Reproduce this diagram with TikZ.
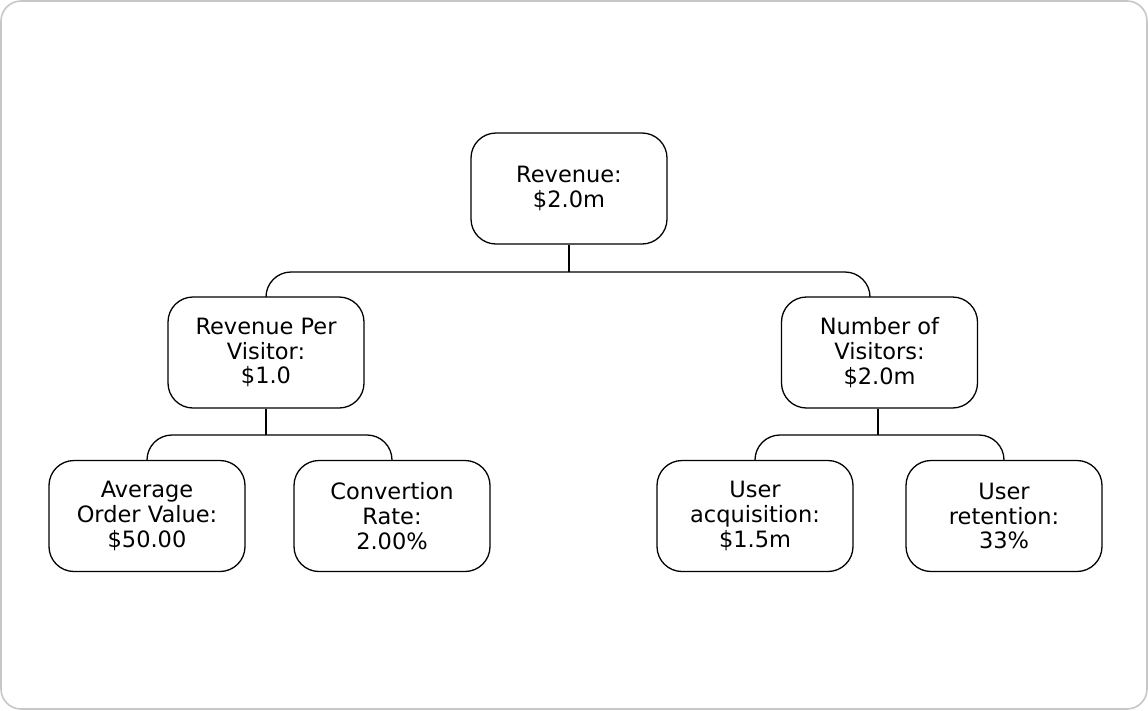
\documentclass[tikz,border=0pt]{standalone}
\usepackage{fontspec}
\setmainfont{DejaVu Sans}
\usetikzlibrary{positioning}

\begin{document}
\begin{tikzpicture}[x=1pt,y=-1pt]
          %% revenue tree

          \tikzstyle{metric}=[draw,line width=1.3pt,rounded corners=25pt,minimum width=196pt,
                  minimum height=111pt,align=center,font=\fontsize{22.5}{24.8}\selectfont,inner sep=0pt]
          \tikzstyle{link}=[line width=1.3pt,rounded corners=25pt]

          \useasboundingbox (0,0) rectangle (1148,710);
          \draw[line width=1.6pt,draw=black!22,rounded corners=20pt] (1,1) rectangle (1147,709);

          % top
          \node[metric] (REV) at (569,188.5) {Revenue:\\\$2.0m};

          % second level
          \node[metric] (RPV) at (266,352.5) {Revenue Per\\Visitor:\\\$1.0};
          \node[metric] (NOV) at (879.5,352.5) {Number of\\Visitors:\\\$2.0m};

          % third level
          \node[metric] (AOV) at (147,516) {Average\\Order Value:\\\$50.00};
          \node[metric] (CR) at (392,516) {Convertion\\Rate:\\2.00\%};
          \node[metric] (UA) at (755,516) {User\\acquisition:\\\$1.5m};
          \node[metric] (UR) at (1004,516) {User\\retention:\\33\%};

          % junctions
          \coordinate (J1) at (569,272);
          \coordinate (NOVtop) at (870,297);
          \coordinate (J2) at (266,435);
          \coordinate (J3) at (878,435);

          \draw[link] (REV.south) -- (J1);
          \draw[link] (RPV.north) |- (J1) -| (NOVtop);

          \draw[link] (RPV.south) -- (J2);
          \draw[link] (AOV.north) |- (J2) -| (CR.north);

          \draw[link] (J3 |- NOV.south) -- (J3);
          \draw[link] (UA.north) |- (J3) -| (UR.north);

\end{tikzpicture}
\end{document}
